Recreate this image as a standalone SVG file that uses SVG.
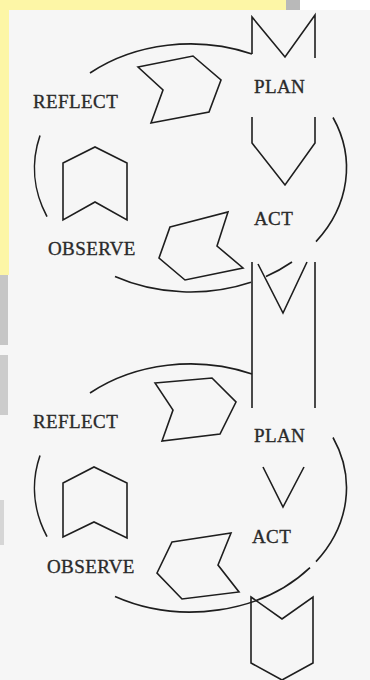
<svg xmlns="http://www.w3.org/2000/svg" width="370" height="680" viewBox="0 0 370 680">
<style>
.s{fill:none;stroke:#1e1e1e;stroke-width:1.6;stroke-linejoin:miter}
.t{font-family:"Liberation Serif","Times New Roman",serif;font-size:19px;fill:#2a2a2a;stroke:#2a2a2a;stroke-width:0.35;letter-spacing:0.4px}
</style>
<rect x="0" y="0" width="370" height="680" fill="#f6f6f6"/>
<g id="watermark">
<rect x="0" y="0" width="288" height="10" fill="#fdf6a6"/>
<rect x="286" y="0" width="14" height="10" fill="#b9b9b9"/>
<rect x="300" y="0" width="70" height="10" fill="#ffffff"/>
<rect x="0" y="0" width="9" height="275" fill="#fdf6a6"/>
<rect x="0" y="275" width="8" height="70" fill="#c6c6c6"/>
<rect x="0" y="355" width="8" height="60" fill="#cccccc"/>
<rect x="0" y="500" width="4" height="45" fill="#d6d6d6"/>
</g>
<g id="connectors">
<path class="s" d="M90,73 A156,124 0 0 1 252,54"/>
<path class="s" d="M333,117.5 A156,124 0 0 1 316,241.6"/>
<path class="s" d="M292,262 A156,124 0 0 1 266,276.5"/>
<path class="s" d="M251,282.3 A156,124 0 0 1 115,276.5"/>
<path class="s" d="M47,216.6 A156,124 0 0 1 40,135.4"/>
<path class="s" d="M90,393 A156,124 0 0 1 252,374"/>
<path class="s" d="M333,437.5 A156,124 0 0 1 316,561.6"/>
<path class="s" d="M310,567.7 A156,124 0 0 1 115,596.5"/>
<path class="s" d="M47,536.6 A156,124 0 0 1 40,455.4"/>
</g>
<g id="plan-entry-1"><polyline class="s" points="252,54 252,17 285,57 315,15 315,58"/></g>
<g id="reflect-plan-1"><polygon class="s" points="138,67 193,56 221,80 209,112 151,123 163,90"/></g>
<g id="plan-act-1"><polyline class="s" points="252,117 252,143 285,185 315,143 315,117"/></g>
<g id="observe-reflect-1"><polygon class="s" points="63,220 63,163 95,147 127,163 127,220 95,202"/></g>
<g id="act-observe-1"><polygon class="s" points="170,227 228,212 217,246 243,268 185,280 159,258"/></g>
<g id="link"><path class="s" d="M252,262 V408 M315,262 V408"/><polyline class="s" points="258,264 283,313 307,262"/></g>
<g id="reflect-plan-2"><polygon class="s" points="155,383 212,378 236,402 220,434 162,441 173,410"/></g>
<g id="plan-act-2"><polyline class="s" points="263,467 283,507 304,467"/></g>
<g id="observe-reflect-2"><polygon class="s" points="63,537 63,483 94,467 127,483 127,538 94,522"/></g>
<g id="act-observe-2"><polygon class="s" points="172,542 231,533 218,565 239,592 182,599 157,573"/></g>
<g id="exit"><polygon class="s" points="251,597 282,619 313,597 313,663 282,680 251,663"/></g>
<g id="reflect-1"><text class="t" x="33" y="108">REFLECT</text></g>
<g id="plan-1"><text class="t" x="254" y="93">PLAN</text></g>
<g id="act-1"><text class="t" x="254" y="225">ACT</text></g>
<g id="observe-1"><text class="t" x="48" y="255">OBSERVE</text></g>
<g id="reflect-2"><text class="t" x="33" y="428">REFLECT</text></g>
<g id="plan-2"><text class="t" x="254" y="442">PLAN</text></g>
<g id="act-2"><text class="t" x="252" y="543">ACT</text></g>
<g id="observe-2"><text class="t" x="47" y="573">OBSERVE</text></g>
</svg>
